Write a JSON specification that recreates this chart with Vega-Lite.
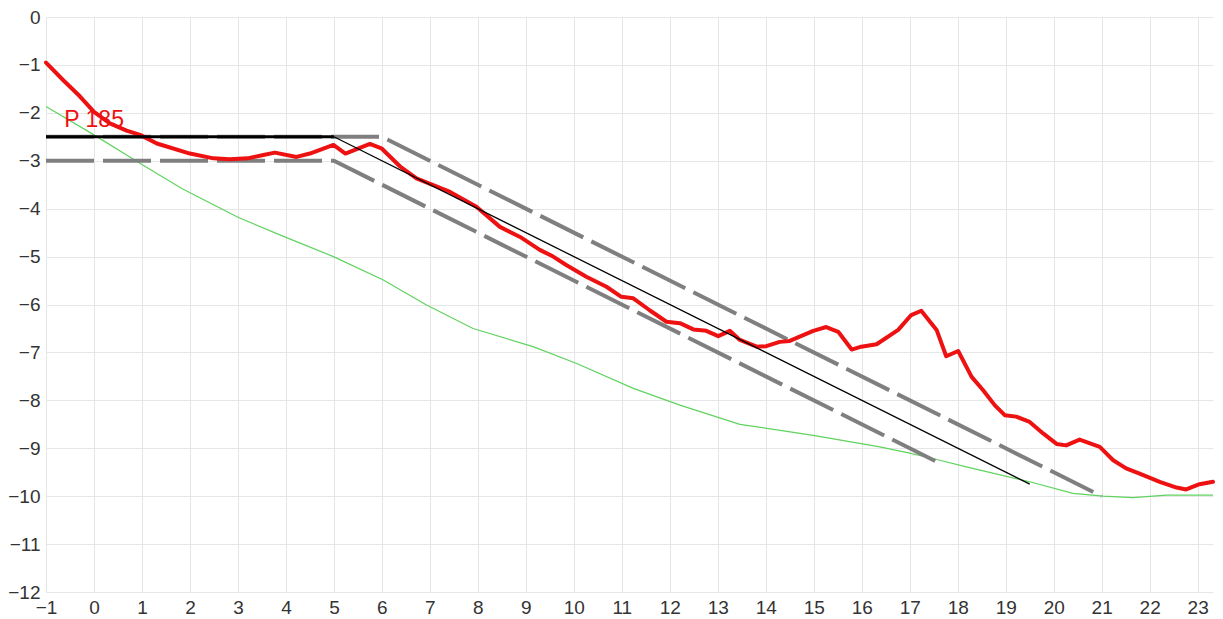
{
  "$schema": "https://vega.github.io/schema/vega-lite/v6.json",
  "width": 1167,
  "height": 575,
  "autosize": {"type": "none"},
  "padding": {"left": 46, "top": 17, "right": 10, "bottom": 27},
  "background": "white",
  "config": {
    "view": {"stroke": null},
    "axis": {
      "grid": true,
      "gridColor": "#e6e6e6",
      "gridWidth": 1,
      "domain": false,
      "ticks": false,
      "tickSize": 0,
      "labelFont": "Liberation Sans",
      "labelFontSize": 19,
      "labelColor": "#333333",
      "title": null
    }
  },
  "datasets": {
    "red": [
      {"x": -1, "y": -0.95}, {"x": -0.64, "y": -1.32}, {"x": -0.29, "y": -1.66}, {"x": 0, "y": -1.98},
      {"x": 0.33, "y": -2.22}, {"x": 0.68, "y": -2.37}, {"x": 0.96, "y": -2.46}, {"x": 1.31, "y": -2.64},
      {"x": 2.0, "y": -2.85}, {"x": 2.49, "y": -2.95}, {"x": 2.83, "y": -2.97}, {"x": 3.2, "y": -2.95},
      {"x": 3.53, "y": -2.88}, {"x": 3.77, "y": -2.83}, {"x": 4.22, "y": -2.92}, {"x": 4.5, "y": -2.85},
      {"x": 4.99, "y": -2.67}, {"x": 5.24, "y": -2.85}, {"x": 5.75, "y": -2.65}, {"x": 5.99, "y": -2.74},
      {"x": 6.38, "y": -3.12}, {"x": 6.72, "y": -3.37}, {"x": 7.07, "y": -3.51}, {"x": 7.42, "y": -3.65},
      {"x": 7.97, "y": -3.96}, {"x": 8.46, "y": -4.38}, {"x": 8.88, "y": -4.59}, {"x": 9.29, "y": -4.86},
      {"x": 9.57, "y": -5.0}, {"x": 9.85, "y": -5.18}, {"x": 10.26, "y": -5.42}, {"x": 10.68, "y": -5.63},
      {"x": 10.99, "y": -5.84}, {"x": 11.24, "y": -5.87}, {"x": 11.58, "y": -6.12}, {"x": 11.93, "y": -6.36},
      {"x": 12.21, "y": -6.39}, {"x": 12.49, "y": -6.52}, {"x": 12.76, "y": -6.55}, {"x": 13.01, "y": -6.66},
      {"x": 13.25, "y": -6.55}, {"x": 13.46, "y": -6.74}, {"x": 13.81, "y": -6.88}, {"x": 14.01, "y": -6.87},
      {"x": 14.29, "y": -6.78}, {"x": 14.5, "y": -6.76}, {"x": 14.78, "y": -6.64}, {"x": 14.99, "y": -6.55},
      {"x": 15.26, "y": -6.47}, {"x": 15.51, "y": -6.57}, {"x": 15.79, "y": -6.94}, {"x": 15.99, "y": -6.88},
      {"x": 16.31, "y": -6.83}, {"x": 16.76, "y": -6.53}, {"x": 17.03, "y": -6.22}, {"x": 17.24, "y": -6.13},
      {"x": 17.56, "y": -6.53}, {"x": 17.76, "y": -7.08}, {"x": 18.01, "y": -6.97}, {"x": 18.29, "y": -7.51},
      {"x": 18.53, "y": -7.79}, {"x": 18.77, "y": -8.10}, {"x": 18.98, "y": -8.31}, {"x": 19.22, "y": -8.34},
      {"x": 19.5, "y": -8.45}, {"x": 19.78, "y": -8.69}, {"x": 20.06, "y": -8.91}, {"x": 20.26, "y": -8.94},
      {"x": 20.54, "y": -8.82}, {"x": 20.96, "y": -8.97}, {"x": 21.24, "y": -9.25}, {"x": 21.51, "y": -9.42},
      {"x": 21.79, "y": -9.53}, {"x": 22.21, "y": -9.70}, {"x": 22.56, "y": -9.82}, {"x": 22.76, "y": -9.86},
      {"x": 23.04, "y": -9.75}, {"x": 23.32, "y": -9.70}
    ],
    "green": [
      {"x": -1, "y": -1.87}, {"x": 0, "y": -2.46}, {"x": 1, "y": -3.08}, {"x": 1.83, "y": -3.58},
      {"x": 3, "y": -4.18}, {"x": 4, "y": -4.6}, {"x": 4.99, "y": -5.0}, {"x": 6.03, "y": -5.49},
      {"x": 6.93, "y": -6.01}, {"x": 7.9, "y": -6.5}, {"x": 9.15, "y": -6.88}, {"x": 10.06, "y": -7.23},
      {"x": 11.24, "y": -7.75}, {"x": 12.21, "y": -8.1}, {"x": 13.46, "y": -8.5}, {"x": 14.99, "y": -8.73},
      {"x": 16.375, "y": -8.97}, {"x": 17.0, "y": -9.1}, {"x": 17.625, "y": -9.25}, {"x": 18.18, "y": -9.39},
      {"x": 19.5, "y": -9.70}, {"x": 20.4, "y": -9.94}, {"x": 21.03, "y": -10.0}, {"x": 21.65, "y": -10.03},
      {"x": 22.35, "y": -9.98}, {"x": 23.32, "y": -9.98}
    ],
    "blackThick": [
      {"x": -1, "y": -2.5}, {"x": 5, "y": -2.5}
    ],
    "blackThin": [
      {"x": 5, "y": -2.5}, {"x": 19.5, "y": -9.75}
    ],
    "gray": [
      {"s": "upper", "x": -1, "y": -2.5}, {"s": "upper", "x": 6, "y": -2.5}, {"s": "upper", "x": 21, "y": -10},
      {"s": "lower", "x": -1, "y": -3}, {"s": "lower", "x": 5, "y": -3}, {"s": "lower", "x": 17.6, "y": -9.3}
    ],
    "label": [
      {"x": -0.62, "y": -2.29, "text": "P 185"}
    ]
  },
  "encoding": {
    "x": {
      "field": "x", "type": "quantitative",
      "scale": {"domain": [-1, 23.32], "nice": false, "zero": false},
      "axis": {"values": [-1,0,1,2,3,4,5,6,7,8,9,10,11,12,13,14,15,16,17,18,19,20,21,22,23], "labelPadding": 6, "labelFlush": false}
    },
    "y": {
      "field": "y", "type": "quantitative",
      "scale": {"domain": [-12, 0], "nice": false, "zero": false},
      "axis": {"values": [-12,-11,-10,-9,-8,-7,-6,-5,-4,-3,-2,-1,0], "labelPadding": 6, "labelFlush": false}
    }
  },
  "layer": [
    {
      "data": {"name": "green"},
      "mark": {"type": "line", "color": "#5fd35f", "strokeWidth": 1.2}
    },
    {
      "data": {"name": "gray"},
      "mark": {"type": "line", "color": "#7f7f7f", "strokeWidth": 4, "strokeDash": [48, 9], "strokeCap": "butt"},
      "encoding": {"detail": {"field": "s"}}
    },
    {
      "data": {"name": "red"},
      "mark": {"type": "line", "color": "#ee1111", "strokeWidth": 4, "strokeJoin": "round", "strokeCap": "round"}
    },
    {
      "data": {"name": "blackThick"},
      "mark": {"type": "line", "color": "#000000", "strokeWidth": 3}
    },
    {
      "data": {"name": "blackThin"},
      "mark": {"type": "line", "color": "#000000", "strokeWidth": 1.3}
    },
    {
      "data": {"name": "label"},
      "mark": {"type": "text", "color": "#ee1111", "font": "Liberation Sans", "fontSize": 23, "align": "left", "baseline": "alphabetic"},
      "encoding": {"text": {"field": "text"}}
    }
  ]
}
